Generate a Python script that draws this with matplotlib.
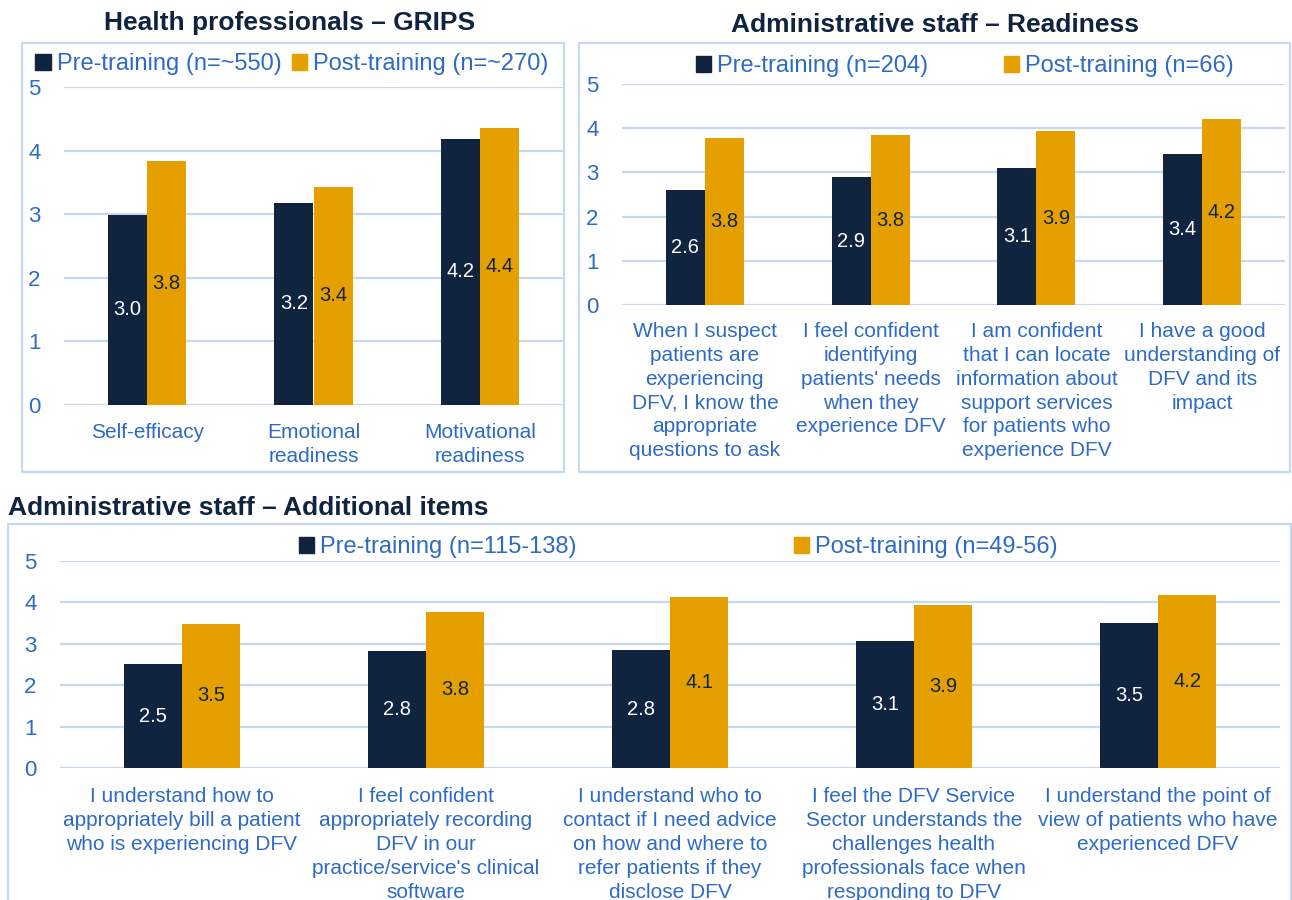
import numpy as np
import matplotlib
matplotlib.use("Agg")
import matplotlib.pyplot as plt
from matplotlib.patches import Patch, Rectangle

plt.rcParams['font.family'] = ['Liberation Sans', 'DejaVu Sans']

W, H = 1292, 900
NAVY = '#10243f'
GOLD = '#e5a000'
BLUE = '#2e6bc4'
GRID = '#c6d9f1'

# ---- data ----
grips_cats = ["Self-efficacy", "Emotional\nreadiness", "Motivational\nreadiness"]
grips_pre = [2.99, 3.18, 4.19]
grips_post = [3.83, 3.43, 4.36]

ready_cats = [
    "When I suspect\npatients are\nexperiencing\nDFV, I know the\nappropriate\nquestions to ask",
    "I feel confident\nidentifying\npatients' needs\nwhen they\nexperience DFV",
    "I am confident\nthat I can locate\ninformation about\nsupport services\nfor patients who\nexperience DFV",
    "I have a good\nunderstanding of\nDFV and its\nimpact",
]
ready_pre = [2.61, 2.89, 3.11, 3.41]
ready_post = [3.77, 3.84, 3.93, 4.20]

extra_cats = [
    "I understand how to\nappropriately bill a patient\nwho is experiencing DFV",
    "I feel confident\nappropriately recording\nDFV in our\npractice/service's clinical\nsoftware",
    "I understand who to\ncontact if I need advice\non how and where to\nrefer patients if they\ndisclose DFV",
    "I feel the DFV Service\nSector understands the\nchallenges health\nprofessionals face when\nresponding to DFV",
    "I understand the point of\nview of patients who have\nexperienced DFV",
]
extra_pre = [2.51, 2.83, 2.84, 3.07, 3.50]
extra_post = [3.48, 3.77, 4.13, 3.94, 4.18]

yticks = [0, 1, 2, 3, 4, 5]

fig = plt.figure(figsize=(W / 100, H / 100), dpi=100)


def px_axes(x0, x1, ytop, ybot):
    return fig.add_axes([x0 / W, 1 - ybot / H, (x1 - x0) / W, (ybot - ytop) / H])


def box(x0, y0, x1, y1):
    fig.add_artist(Rectangle((x0 / W, 1 - y1 / H), (x1 - x0) / W, (y1 - y0) / H,
                             transform=fig.transFigure, fill=False,
                             edgecolor=GRID, lw=1.6))


def bar_panel(ax, cats, pre, post, width, labels, leg_anchor, colsp, xpad):
    x = np.arange(len(cats))
    b1 = ax.bar(x - width / 2, pre, width, color=NAVY, zorder=3)
    b2 = ax.bar(x + width / 2, post, width, color=GOLD, zorder=3)
    for rect, v in zip(b1, pre):
        ax.text(rect.get_x() + rect.get_width() / 2, v / 2, f"{v:.1f}",
                ha='center', va='center', color='white', fontsize=14.5, zorder=4)
    for rect, v in zip(b2, post):
        ax.text(rect.get_x() + rect.get_width() / 2, v / 2, f"{v:.1f}",
                ha='center', va='center', color=NAVY, fontsize=14.5, zorder=4)
    ax.set_xlim(-0.5, len(cats) - 0.5)
    ax.set_ylim(0, 5)
    ax.set_yticks(yticks)
    ax.set_yticklabels([str(t) for t in yticks])
    ax.set_xticks(x)
    ax.set_xticklabels(cats, linespacing=1.33)
    ax.tick_params(axis='y', length=0, pad=17, labelsize=16, labelcolor=BLUE)
    ax.tick_params(axis='x', length=0, pad=xpad, labelsize=15, labelcolor=BLUE)
    for s in ax.spines.values():
        s.set_visible(False)
    ax.grid(axis='y', color=GRID, lw=1.6, zorder=0)
    ax.set_axisbelow(True)
    handles = [Patch(color=NAVY), Patch(color=GOLD)]
    ax.legend(handles, labels, loc='center', bbox_to_anchor=leg_anchor,
              bbox_transform=fig.transFigure, ncol=2, frameon=False,
              fontsize=17, labelcolor=BLUE, handlelength=0.65, handleheight=0.65,
              handletextpad=0.25, columnspacing=colsp, borderpad=0, borderaxespad=0)


# panel boxes
box(22, 43, 564, 472)
box(579, 43, 1290, 472)
box(8, 524, 1291, 910)

# titles
fig.text(290 / W, 1 - 23 / H, "Health professionals \u2013 GRIPS", ha='center', va='center',
         fontsize=19, fontweight='bold', color=NAVY)
fig.text(935 / W, 1 - 25 / H, "Administrative staff \u2013 Readiness", ha='center', va='center',
         fontsize=19, fontweight='bold', color=NAVY)
fig.text(8 / W, 1 - 508 / H, "Administrative staff \u2013 Additional items", ha='left', va='center',
         fontsize=19, fontweight='bold', color=NAVY)

ax1 = px_axes(64, 563, 87, 405)
bar_panel(ax1, grips_cats, grips_pre, grips_post, 0.235,
          ["Pre-training (n=~550)", "Post-training (n=~270)"],
          (292 / W, 1 - 64 / H), 0.45, 13)

ax2 = px_axes(622, 1285, 84, 305)
bar_panel(ax2, ready_cats, ready_pre, ready_post, 0.235,
          ["Pre-training (n=204)", "Post-training (n=66)"],
          (965 / W, 1 - 66 / H), 3.2, 12)

ax3 = px_axes(60, 1280, 561, 768)
bar_panel(ax3, extra_cats, extra_pre, extra_post, 0.238,
          ["Pre-training (n=115-138)", "Post-training (n=49-56)"],
          (678 / W, 1 - 547 / H), 9.2, 14)

fig.savefig("out.png", dpi=100)
